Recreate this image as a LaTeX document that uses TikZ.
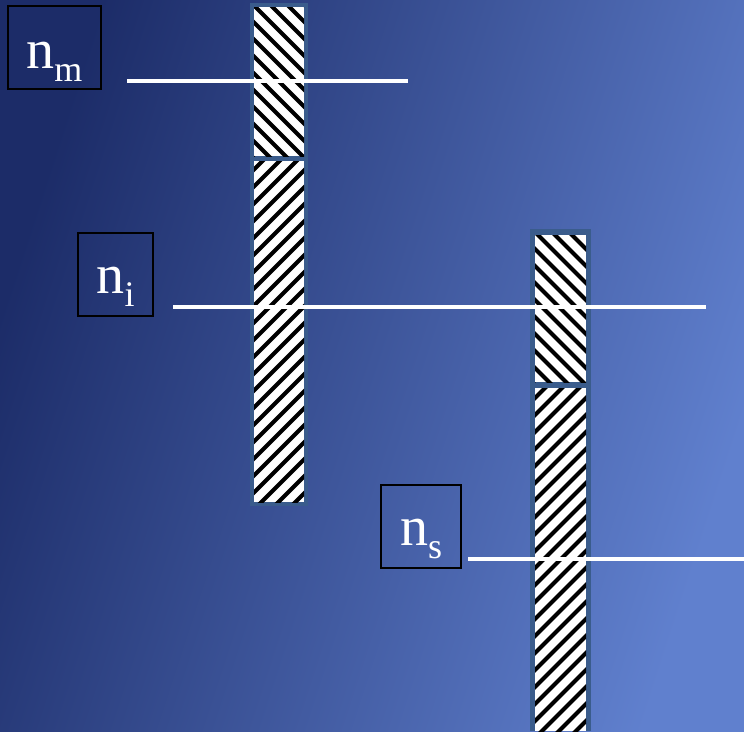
\documentclass[tikz,border=0pt]{standalone}
\usepackage{fontspec}
\setmainfont{Liberation Serif}
\definecolor{bgdark}{RGB}{28,44,104}
\definecolor{bglight}{RGB}{96,128,206}
\definecolor{barframe}{RGB}{58,92,140}
\tikzset{
  labelbox/.style={draw=black, line width=2pt, minimum width=#1, inner sep=0pt, minimum height=83pt},
  lab/.style={text=white, inner sep=0pt, anchor=base, font=\fontsize{56}{56}\selectfont},
  wline/.style={draw=white, line width=3.5pt},
  hatchline/.style={draw=black, line width=4pt},
}
\newcommand{\subtx}[1]{\raisebox{-13pt}{\fontsize{36}{36}\selectfont #1}}
% \hatchbox{x0}{y0}{x1}{y1}{dir} dir=1 for "\\", -1 for "/"
\newcommand{\hatchbox}[5]{%
  \fill[white] (#1,#2) rectangle (#3,#4);
  \begin{scope}
    \clip (#1,#2) rectangle (#3,#4);
    \foreach \k in {-30,...,30}{
      \draw[hatchline] ({(#1+#3)/2+17*\k-400*#5},{(#2+#4)/2-400}) -- ({(#1+#3)/2+17*\k+400*#5},{(#2+#4)/2+400});
    }
  \end{scope}
}
\begin{document}
\begin{tikzpicture}[x=1pt,y=-1pt]
\useasboundingbox (0,0) rectangle (744,731);
\shade[top color=bgdark, bottom color=bglight, shading angle=72] (0,0) rectangle (744,731);

% bar 1
\fill[barframe] (250,3) rectangle (308,506);
\hatchbox{254}{7}{304}{156}{1}
\hatchbox{254}{161}{304}{502}{-1}
% bar 2
\fill[barframe] (530,229) rectangle (591,731);
\hatchbox{535}{235}{586}{382}{1}
\hatchbox{535}{388}{586}{731}{-1}

% white lines
\coordinate (l1a) at (127,81); \coordinate (l1b) at (408,81);
\coordinate (l2a) at (173,307); \coordinate (l2b) at (706,307);
\coordinate (l3a) at (468,559); \coordinate (l3b) at (744,559);
\draw[wline] (l1a) -- (l1b);
\draw[wline] (l2a) -- (l2b);
\draw[wline] (l3a) -- (l3b);

% label boxes
\node[labelbox=93pt] (bm) at (54.5,47.5) {};
\node[labelbox=75pt] (bi) at (115.5,274) {};
\node[labelbox=80pt] (bs) at (421,526) {};
\node[lab] (tm) at (54.5,68) {n\subtx{m}};
\node[lab] (ti) at (115.5,293) {n\subtx{i}};
\node[lab] (ts) at (421,545) {n\subtx{s}};
\end{tikzpicture}
\end{document}
